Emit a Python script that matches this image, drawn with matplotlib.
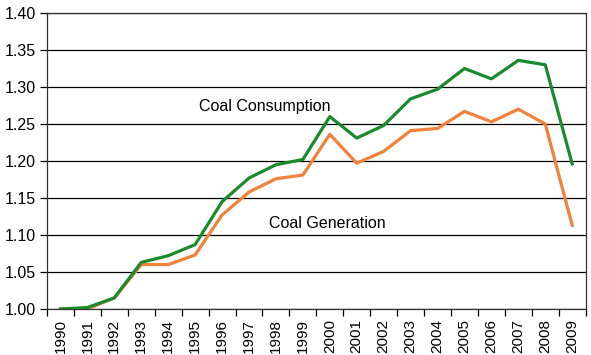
import numpy as np
import matplotlib
matplotlib.use("Agg")
import matplotlib.pyplot as plt

plt.rcParams['font.family'] = ['Liberation Sans', 'DejaVu Sans']

years = [str(y) for y in range(1990, 2010)]
consumption = [1.000, 1.002, 1.015, 1.063, 1.072, 1.087, 1.145, 1.177, 1.195, 1.202,
               1.260, 1.231, 1.248, 1.284, 1.297, 1.325, 1.311, 1.336, 1.330, 1.196]
generation = [1.000, 1.000, 1.015, 1.060, 1.060, 1.073, 1.127, 1.158, 1.176, 1.181,
              1.236, 1.197, 1.213, 1.241, 1.244, 1.267, 1.253, 1.270, 1.250, 1.113]

fig = plt.figure(figsize=(5.91, 3.55), dpi=100)
ax = fig.add_axes([0.0795, 0.1296, 0.9115, 0.8338])

x = np.arange(len(years))
ax.plot(x, generation, color='#f2813a', lw=2.3, solid_joinstyle='round', zorder=3)
ax.plot(x, consumption, color='#1b8a2c', lw=2.3, solid_joinstyle='round', zorder=4)

ax.set_xlim(-0.5, len(years) - 0.5)
ax.set_ylim(1.0, 1.4)
yt = np.arange(1.0, 1.401, 0.05)
ax.set_yticks(yt)
ax.set_yticklabels(['%.2f' % v for v in yt], fontsize=11.5)
ax.yaxis.grid(True, color='black', lw=0.9)
ax.set_axisbelow(True)

ax.set_xticks(x)
ax.set_xticklabels(years, rotation=90, fontsize=11)
ax.tick_params(axis='x', length=0, pad=7)
ax.set_xticks(np.arange(-0.5, len(years)), minor=True)
ax.tick_params(axis='x', which='minor', length=5, width=0.9, direction='out')
ax.tick_params(axis='y', length=5, width=0.9, direction='out', pad=3)

for s in ax.spines.values():
    s.set_linewidth(0.9)
    s.set_color('#333333')

ax.text(7.6, 1.274, 'Coal Consumption', fontsize=11.5, ha='center', va='center')
ax.text(9.9, 1.116, 'Coal Generation', fontsize=11.5, ha='center', va='center')

fig.savefig('out.png', dpi=100)
